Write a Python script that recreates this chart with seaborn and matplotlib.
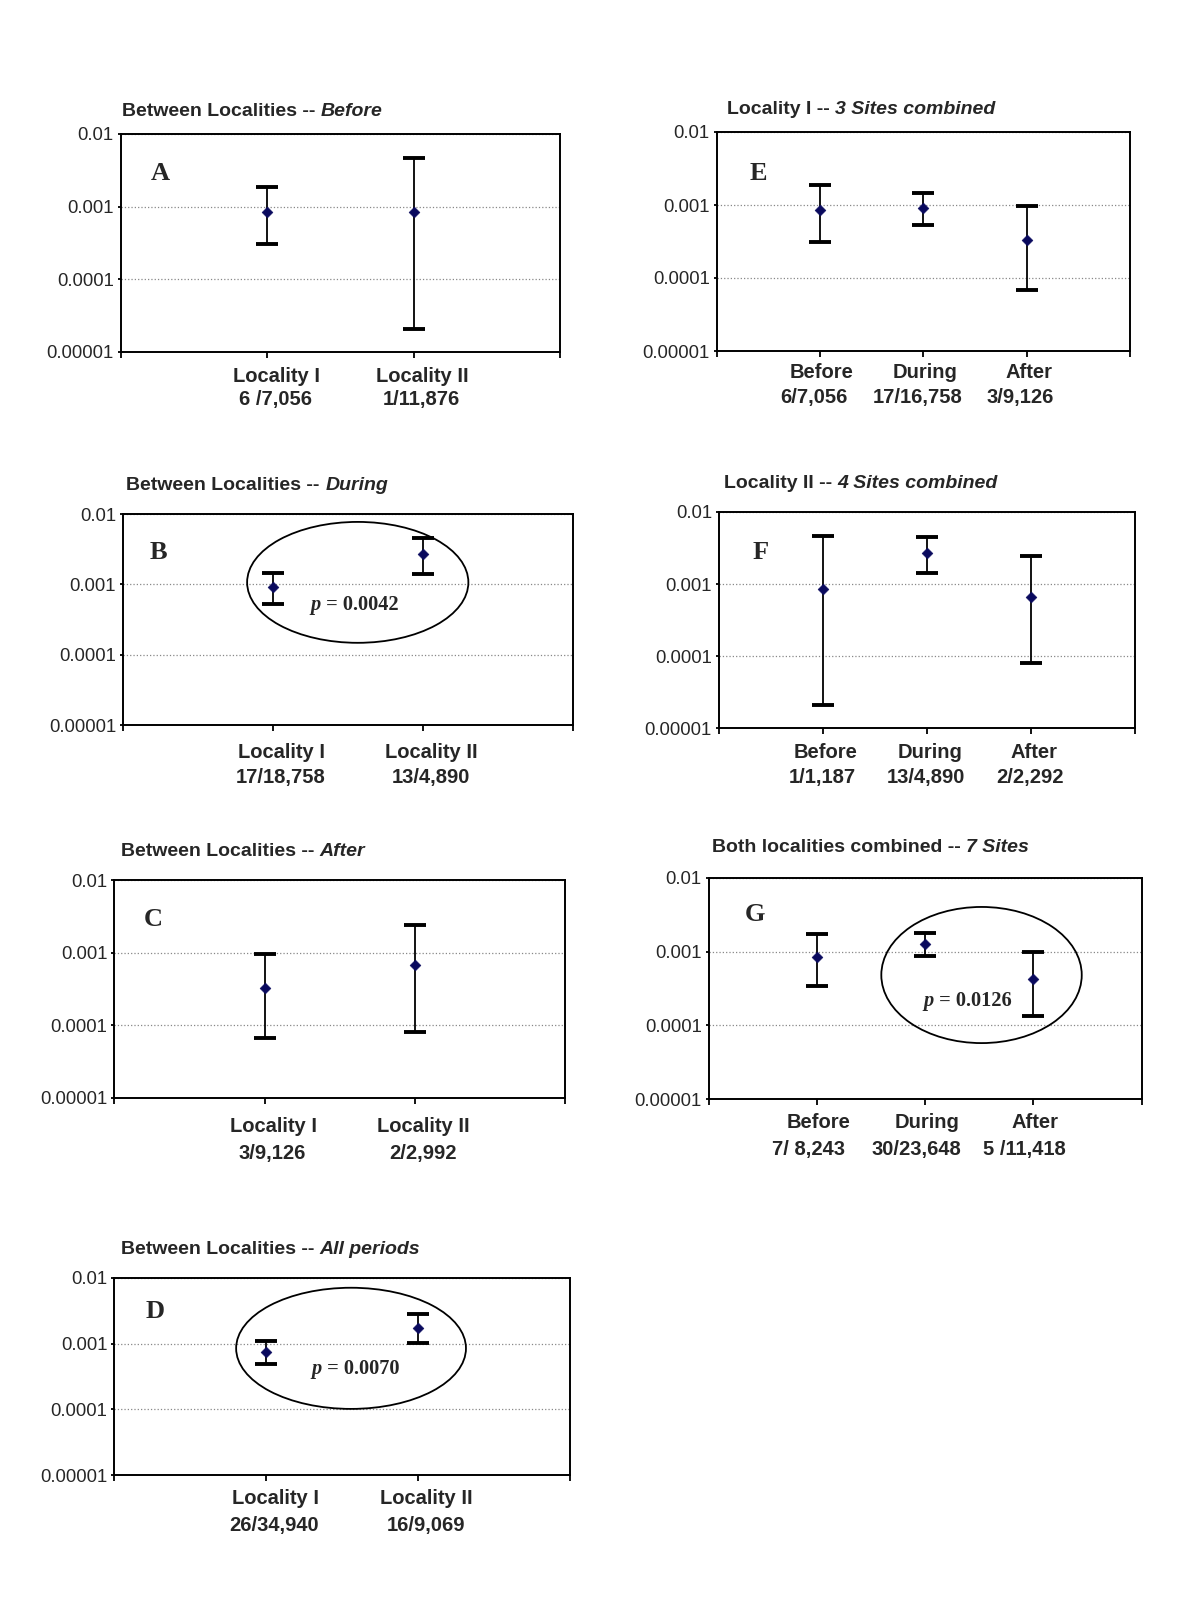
import matplotlib
matplotlib.use('Agg')
import matplotlib.pyplot as plt
from matplotlib.patches import Ellipse
import matplotlib.transforms as mtransforms
import seaborn as sns
import numpy as np

# --- data (rates with 95% CI) ---
ytick_vals = [1e-5, 1e-4, 1e-3, 1e-2]
ytick_labels = ['0.00001', '0.0001', '0.001', '0.01']

A_cats = ['Locality I', 'Locality II']
A_counts = ['6 /7,056', '1/11,876']
A_rate = [8.5e-4, 8.4e-4]
A_low = [3.1e-4, 2.1e-5]
A_high = [1.85e-3, 4.7e-3]

B_cats = ['Locality I', 'Locality II']
B_counts = ['17/18,758', '13/4,890']
B_rate = [9.1e-4, 2.66e-3]
B_low = [5.3e-4, 1.42e-3]
B_high = [1.45e-3, 4.55e-3]

C_cats = ['Locality I', 'Locality II']
C_counts = ['3/9,126', '2/2,992']
C_rate = [3.3e-4, 6.7e-4]
C_low = [6.8e-5, 8.1e-5]
C_high = [9.6e-4, 2.41e-3]

D_cats = ['Locality I', 'Locality II']
D_counts = ['26/34,940', '16/9,069']
D_rate = [7.4e-4, 1.76e-3]
D_low = [4.9e-4, 1.01e-3]
D_high = [1.09e-3, 2.86e-3]

E_cats = ['Before', 'During', 'After']
E_counts = ['6/7,056', '17/16,758', '3/9,126']
E_rate = [8.5e-4, 9.0e-4, 3.3e-4]
E_low = [3.1e-4, 5.3e-4, 6.8e-5]
E_high = [1.85e-3, 1.45e-3, 9.6e-4]

F_cats = ['Before', 'During', 'After']
F_counts = ['1/1,187', '13/4,890', '2/2,292']
F_rate = [8.4e-4, 2.66e-3, 6.7e-4]
F_low = [2.1e-5, 1.42e-3, 8.1e-5]
F_high = [4.7e-3, 4.55e-3, 2.41e-3]

G_cats = ['Before', 'During', 'After']
G_counts = ['7/ 8,243', '30/23,648', '5 /11,418']
G_rate = [8.5e-4, 1.27e-3, 4.3e-4]
G_low = [3.4e-4, 8.8e-4, 1.35e-4]
G_high = [1.75e-3, 1.81e-3, 1.0e-3]

# --- style ---
sns.set_style('white')
plt.rcParams['font.family'] = ['Liberation Sans', 'DejaVu Sans']

W, H = 1200, 1600
fig = plt.figure(figsize=(12, 16), dpi=100)

# layout per panel (pixels): axes box (l, r, t, b), title pos, letter pos (axes frac),
# label offsets (name dx, count dx, name dy, count dy), p-value + ellipse (axes frac)
panels = [
    dict(letter='A', tb='Between Localities -- ', ti='Before', box=(120.6, 560, 134, 352),
         tpos=(122, 111), lpos=(0.068, 0.789), loff=(9, 8, 24, 47),
         data=(A_cats, A_counts, A_rate, A_low, A_high), p=None, ell=None),
    dict(letter='B', tb='Between Localities -- ', ti='During', box=(123, 572.7, 514, 725),
         tpos=(126.5, 485), lpos=(0.06, 0.787), loff=(9, 8, 28, 53),
         data=(B_cats, B_counts, B_rate, B_low, B_high),
         p=('0.0042', 0.44, 0.545), ell=(0.522, 0.676, 0.492, 0.573)),
    dict(letter='C', tb='Between Localities -- ', ti='After', box=(114.3, 565, 880, 1098),
         tpos=(121, 851), lpos=(0.066, 0.789), loff=(9, 8, 28, 56),
         data=(C_cats, C_counts, C_rate, C_low, C_high), p=None, ell=None),
    dict(letter='D', tb='Between Localities -- ', ti='All periods', box=(114.4, 569.5, 1278, 1475),
         tpos=(121, 1249), lpos=(0.068, 0.797), loff=(9, 8, 24, 50),
         data=(D_cats, D_counts, D_rate, D_low, D_high),
         p=('0.0070', 0.456, 0.513), ell=(0.52, 0.643, 0.505, 0.615)),
    dict(letter='E', tb='Locality I -- ', ti='3 Sites combined', box=(716.6, 1130, 132, 351),
         tpos=(727, 109), lpos=(0.08, 0.781), loff=(2, -6, 21, 47),
         data=(E_cats, E_counts, E_rate, E_low, E_high), p=None, ell=None),
    dict(letter='F', tb='Locality II -- ', ti='4 Sites combined', box=(718.9, 1135, 512, 728),
         tpos=(724, 483), lpos=(0.08, 0.782), loff=(3, -1, 24, 49),
         data=(F_cats, F_counts, F_rate, F_low, F_high), p=None, ell=None),
    dict(letter='G', tb='Both localities combined -- ', ti='7 Sites', box=(708.8, 1141.7, 878, 1099),
         tpos=(712, 848), lpos=(0.084, 0.805), loff=(2, -9, 24, 50),
         data=(G_cats, G_counts, G_rate, G_low, G_high),
         p=('0.0126', 0.52, 0.421), ell=(0.63, 0.561, 0.463, 0.616)),
]

for pn in panels:
    l, r, t, b = pn['box']
    cats, counts, rate, low, high = pn['data']
    ax = fig.add_axes([l / W, 1 - b / H, (r - l) / W, (b - t) / H])
    n = len(cats)
    xpos = np.arange(1, n + 1)
    rate = np.array(rate)
    yerr = [rate - np.array(low), np.array(high) - rate]

    ax.errorbar(xpos, rate, yerr=yerr, fmt='none', ecolor='black', elinewidth=1.3,
                capsize=8, capthick=2.8, zorder=2)
    sns.scatterplot(x=xpos, y=rate, marker='D', color='#0a0a5e', edgecolor='#0a0a5e',
                    s=30, ax=ax, zorder=3, legend=False)

    ax.set_yscale('log')
    ax.set_ylim(1e-5, 1e-2)
    ax.set_xlim(0, n + 1)
    ax.yaxis.set_major_locator(matplotlib.ticker.FixedLocator(ytick_vals))
    ax.yaxis.set_minor_locator(matplotlib.ticker.NullLocator())
    ax.set_yticklabels(ytick_labels, fontsize=13.3)
    ax.set_xticks(np.arange(0, n + 2))
    ax.set_xticklabels([])
    ax.tick_params(axis='x', direction='out', length=4, width=1.3, color='black', bottom=True)
    ax.tick_params(axis='y', direction='out', length=2.5, width=1.3, color='black',
                   left=True, pad=2.5)
    ax.yaxis.grid(True, linestyle=':', color='#888888', linewidth=0.9)
    ax.xaxis.grid(False)
    for sp in ax.spines.values():
        sp.set_visible(True)
        sp.set_color('black')
        sp.set_linewidth(1.4)

    # category names and counts under the axis
    dxn, dxc, dyn, dyc = pn['loff']
    trans = mtransforms.blended_transform_factory(ax.transData, ax.transAxes)
    for x, c, k in zip(xpos, cats, counts):
        ax.annotate(c, xy=(x, 0), xycoords=trans, xytext=(dxn, -dyn),
                    textcoords='offset pixels', ha='center', va='center',
                    fontsize=14.5, fontweight='bold', annotation_clip=False)
        ax.annotate(k, xy=(x, 0), xycoords=trans, xytext=(dxc, -dyc),
                    textcoords='offset pixels', ha='center', va='center',
                    fontsize=14.5, fontweight='bold', annotation_clip=False)

    # panel letter
    ax.text(pn['lpos'][0], pn['lpos'][1], pn['letter'], transform=ax.transAxes, fontsize=19,
            fontweight='bold', family='Liberation Serif', va='baseline', ha='left')

    # title: bold part + bold italic part
    tx, ty = pn['tpos']
    t1 = fig.text(tx / W, 1 - ty / H, pn['tb'], fontsize=14, fontweight='bold',
                  va='center', ha='left')
    fig.text(0, 0, '')
    ax.annotate(pn['ti'], xy=(1, 0), xycoords=t1, va='bottom', ha='left',
                fontsize=14, fontweight='bold', fontstyle='italic', annotation_clip=False)

    # p-value with ellipse
    if pn['p'] is not None:
        val, px, py = pn['p']
        tp = ax.text(px, py, ' = ' + val, transform=ax.transAxes, fontsize=14.7,
                     fontweight='bold', family='Liberation Serif', va='baseline', ha='left')
        ax.annotate('p', xy=(0, 0), xycoords=tp, va='bottom', ha='right', fontsize=14.7,
                    fontweight='bold', fontstyle='italic', family='Liberation Serif',
                    annotation_clip=False)
        cx, cy, ew, eh = pn['ell']
        ax.add_patch(Ellipse((cx, cy), ew, eh, transform=ax.transAxes, fill=False,
                             edgecolor='black', linewidth=1.3, clip_on=False, zorder=4))

fig.savefig('out.png', dpi=100, facecolor='white')
